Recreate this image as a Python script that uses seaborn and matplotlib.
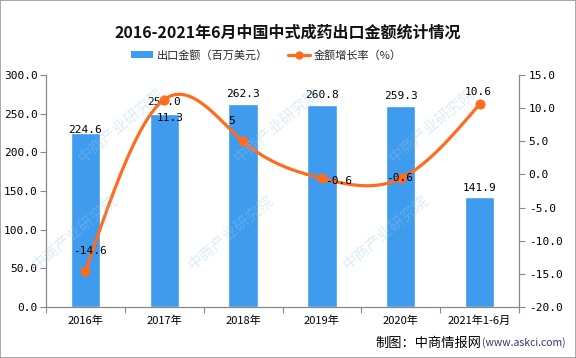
import numpy as np
import pandas as pd
import matplotlib
matplotlib.use('Agg')
import matplotlib.pyplot as plt
import seaborn as sns
from matplotlib.patches import Rectangle, Patch
from matplotlib.lines import Line2D

categories = ['2016年', '2017年', '2018年', '2019年', '2020年', '2021年1-6月']
export_value = [224.6, 250.0, 262.3, 260.8, 259.3, 141.9]
growth_rate = [-14.6, 11.3, 5.0, -0.6, -0.6, 10.6]
growth_labels = ['-14.6', '11.3', '5', '-0.6', '-0.6', '10.6']
left_ticks = [0, 50, 100, 150, 200, 250, 300]
right_ticks = [-20, -15, -10, -5, 0, 5, 10, 15]

BAR = '#3E9BEE'
LINE = '#FF6B1F'

sns.set_theme(style='white')
plt.rcParams['font.family'] = ['Noto Sans CJK SC', 'DejaVu Sans']
NUM = ['DejaVu Sans Mono']

fig = plt.figure(figsize=(5.76, 3.58), dpi=100)
ax = fig.add_axes([46/576, 1-307/358, (519-46)/576, (307-75)/358])

df = pd.DataFrame({'cat': categories, 'value': export_value, 'rate': growth_rate})
sns.barplot(data=df, x='cat', y='value', color=BAR, width=0.37, saturation=1, ax=ax)
ax.set_xlim(-0.5, len(categories) - 0.5)
ax.set_ylim(0, 300)
ax.set_yticks(left_ticks)
ax.set_yticklabels([f'{v:.1f}' for v in left_ticks], family=NUM, fontsize=8)
ax.set_xlabel('')
ax.set_ylabel('')
ax.set_xticks(range(len(categories)))
ax.set_xticklabels(categories, fontsize=8)
ax.set_xticks(np.arange(-0.5, len(categories), 1.0), minor=True)
ax.tick_params(axis='x', which='major', length=0, pad=6, colors='black')
ax.tick_params(axis='x', which='minor', length=4, color='#888888', width=0.8, bottom=True)
ax.tick_params(axis='y', length=4, color='#888888', width=0.8, left=True, pad=2, colors='black')
for s in ['top', 'right']:
    ax.spines[s].set_visible(False)
for s in ['left', 'bottom']:
    ax.spines[s].set_color('#888888')
    ax.spines[s].set_linewidth(0.9)
ax.grid(False)

# bar value labels
bar_off = [3, 12, 10, 10, 10, 9]
for i, v in enumerate(export_value):
    ax.annotate(f'{v:.1f}', (i, v), xytext=(0, bar_off[i]), textcoords='offset pixels',
                ha='center', va='center', family=NUM, fontsize=8, color='black')

# secondary axis with smooth line
ax2 = ax.twinx()
x = np.arange(len(growth_rate), dtype=float)
y = np.array(growth_rate)
n = len(x)
A = np.zeros((n, n)); b = np.zeros(n)
A[0, 0] = A[-1, -1] = 1
for i in range(1, n - 1):
    A[i, i - 1], A[i, i], A[i, i + 1] = 1, 4, 1
    b[i] = 6 * (y[i + 1] - 2 * y[i] + y[i - 1])
M = np.linalg.solve(A, b)
xs, ys = [], []
for i in range(n - 1):
    t = np.linspace(0, 1, 40)
    s = (M[i] * (1 - t) ** 3 / 6 + M[i + 1] * t ** 3 / 6
         + (y[i] - M[i] / 6) * (1 - t) + (y[i + 1] - M[i + 1] / 6) * t)
    xs.extend(x[i] + t); ys.extend(s)
sns.lineplot(x=xs, y=ys, ax=ax2, color=LINE, linewidth=2.3, sort=False)
sns.scatterplot(x=x, y=y, ax=ax2, color=LINE, s=45, edgecolor=LINE, zorder=5)
ax2.set_ylim(-20, 15)
ax2.set_yticks(right_ticks)
ax2.set_yticklabels([f'{v:.1f}' for v in right_ticks], family=NUM, fontsize=8)
ax2.tick_params(axis='y', length=4, color='#888888', width=0.8, right=True, pad=3, colors='black')
for s in ['top', 'left', 'bottom']:
    ax2.spines[s].set_visible(False)
ax2.spines['right'].set_color('#888888')
ax2.spines['right'].set_linewidth(0.9)
ax2.grid(False)

line_off = [(5, 20), (6, -18), (-11, 20), (17, -3), (-1, 0), (-1, 12)]
for i, v in enumerate(growth_rate):
    ax2.annotate(growth_labels[i], (i, v), xytext=line_off[i], textcoords='offset pixels',
                 ha='center', va='center', family=NUM, fontsize=8, color='black', zorder=6)

# title & legend
fig.text(0.5, 1-33/358, '2016-2021年6月中国中式成药出口金额统计情况', ha='center', va='center',
         fontsize=11.5, fontweight='bold', color='#111111')
handles = [Patch(facecolor=BAR, edgecolor='none'),
           Line2D([0], [0], color=LINE, lw=2.3, marker='o', markersize=5)]
fig.legend(handles, ['出口金额（百万美元）', '金额增长率（%）'], loc='center',
           bbox_to_anchor=(266/576, 1-55/358), ncol=2, frameon=False, fontsize=8,
           handlelength=2.0, handleheight=0.6, columnspacing=1.8, handletextpad=0.3)

# footer
fig.text(566/576, 1-343/358, '(www.askci.com)', ha='right', va='center', fontsize=7.5, color='#3A2D78')
fig.text(481/576, 1-343/358, '制图：中商情报网', ha='right', va='center', fontsize=9.5, color='black')

# watermark (kept fully inside the figure)
for gx in range(-1, 5):
    for gy in range(-1, 4):
        px = 0.05 + gx * 0.27 + gy * 0.08
        py = 0.05 + gy * 0.3
        if 0.12 < px < 0.88 and 0.15 < py < 0.85:
            fig.text(px, py, '中商产业研究院', rotation=40, fontsize=11, color='#9fc6ea',
                     alpha=0.35, ha='center', va='center', zorder=10)

fig.add_artist(Rectangle((0, 0), 1, 1, transform=fig.transFigure, fill=False,
                         edgecolor='#9a9a9a', linewidth=1.2))
fig.savefig('out.png', dpi=100)
